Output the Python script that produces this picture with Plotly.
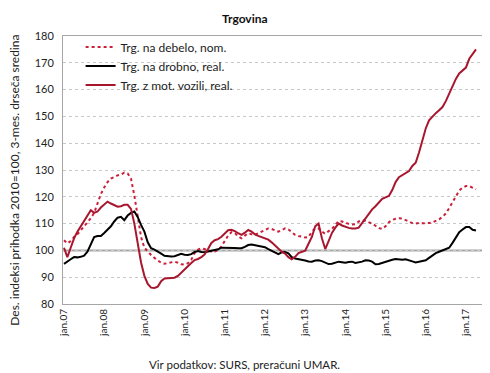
import plotly.graph_objects as go

# month index from jan 2007 (0) to apr 2017 (123)
tick_labels = ["jan.07", "jan.08", "jan.09", "jan.10", "jan.11", "jan.12",
               "jan.13", "jan.14", "jan.15", "jan.16", "jan.17"]
tick_positions = [0, 12, 24, 36, 48, 60, 72, 84, 96, 108, 120]

series_names = ["Trg. na debelo, nom.", "Trg. na drobno, real.", "Trg. z mot. vozili, real."]

wholesale_nom = [
    103.8, 102.6, 103.5, 105.0, 106.0, 107.5, 109.0, 110.5, 112.0, 114.0,
    117.5, 121.0, 123.5, 125.5, 126.8, 127.5, 128.0, 128.3, 129.0, 128.7,
    126.8, 120.5, 112.0, 105.0, 101.0, 99.5, 98.3, 97.2, 96.3, 95.4,
    95.0, 95.2, 95.6, 95.8, 95.4, 94.8, 94.7, 95.2, 96.5, 99.0,
    100.3, 100.8, 100.5, 100.0, 99.5, 99.6, 100.2, 101.5, 103.5, 105.5,
    106.8, 106.5, 105.2, 104.5, 105.5, 106.4, 106.0, 105.8, 106.4, 107.0,
    107.5, 108.2, 108.0, 107.6, 107.0, 107.6, 108.2, 107.8, 106.8, 105.8,
    105.4, 105.2, 104.8, 105.0, 107.0, 108.2, 108.2, 107.0, 106.2, 107.2,
    108.0, 109.5, 111.0, 110.8, 110.3, 109.9, 109.7, 109.8, 110.8, 111.3,
    111.0, 110.6, 110.0, 109.2, 108.3, 108.0, 109.0, 110.5, 111.4, 111.8,
    112.0, 111.9, 111.3, 110.7, 110.2, 110.0, 110.2, 110.1, 110.1, 110.2,
    110.4, 110.9, 111.6, 112.5, 113.8, 115.8, 117.9, 120.5, 122.3, 123.4,
    124.0, 124.0, 123.5, 122.8,
]

retail_real = [
    95.0, 96.0, 96.7, 97.5, 97.4, 97.6, 98.0, 99.5, 102.5, 105.0,
    105.4, 105.4, 106.5, 107.8, 109.0, 110.8, 112.2, 112.5, 111.3, 113.0,
    114.0, 114.5, 112.5, 109.5, 107.0, 103.0, 100.8, 100.3, 99.7, 98.8,
    98.0, 97.8, 97.7, 97.8, 98.2, 98.7, 98.4, 98.3, 98.6, 99.4,
    99.8, 99.4, 99.3, 99.6, 100.0, 100.2, 100.4, 101.0, 101.0, 100.9,
    101.1, 100.9, 100.8, 100.8, 101.3, 102.0, 102.2, 102.0, 101.6, 101.6,
    101.2, 100.5, 99.8, 99.2, 98.6, 99.3, 99.4, 98.9, 97.5, 97.0,
    96.8, 96.5, 96.2, 95.9, 95.8, 96.2, 96.3, 96.0, 95.3, 94.9,
    95.0, 95.3, 95.8, 95.6, 95.4, 95.7, 95.8, 95.3, 95.5, 95.8,
    96.3, 96.2, 95.8, 94.8, 94.9, 95.3, 95.9, 96.2, 96.5, 96.8,
    96.7, 96.5, 96.7, 96.4, 95.9, 95.5, 95.8, 96.0, 96.3, 97.2,
    98.2, 99.0, 99.5, 100.0, 100.2, 101.0, 102.8, 105.0, 106.8, 107.8,
    108.7, 108.7, 107.7, 107.4,
]

motor_real = [
    101.0, 97.5, 101.0, 104.5, 107.0, 109.0, 111.5, 113.5, 115.0, 114.0,
    114.5, 116.0, 117.0, 118.2, 117.5, 116.8, 116.3, 116.5, 117.0, 117.0,
    115.5, 110.0, 102.5, 95.5, 90.5, 87.5, 86.1, 86.0, 86.5, 88.5,
    89.5, 89.6, 89.5, 89.8, 90.5, 91.8, 92.8, 94.0, 95.3, 96.4,
    96.8, 97.5, 98.5, 100.5, 102.8, 103.8, 104.2, 105.1, 106.5, 107.5,
    107.7, 107.2, 106.4, 105.8, 106.6, 107.6, 107.0, 106.0, 105.4, 105.0,
    104.6, 104.0, 103.0, 101.8, 100.5, 99.5, 98.8, 97.5, 96.7, 97.6,
    99.0, 99.4, 99.9, 102.5, 105.0, 109.0, 110.0, 104.5, 100.5, 103.5,
    106.5, 108.5, 110.0, 109.3, 108.8, 108.4, 108.2, 108.2, 108.5, 110.3,
    111.8, 113.5, 115.3, 116.5, 118.0, 119.2, 119.8, 120.3, 122.5, 125.5,
    127.3, 128.0, 128.7, 129.6, 131.5, 132.7, 136.5, 141.5, 145.5, 148.5,
    150.0, 151.2, 152.3, 153.5, 155.7, 158.5, 161.0, 164.0, 166.0, 167.0,
    168.2, 171.5, 173.5, 175.0,
]

base_value = 100
months = list(range(len(motor_real)))

FONT = "Lato"
C_DOT = "#CC1F3A"
C_RED = "#A8162E"

fig = go.Figure()
fig.add_trace(go.Scatter(x=months, y=wholesale_nom, name=series_names[0], mode="lines",
                         line=dict(color=C_DOT, width=2, dash="dot")))
fig.add_trace(go.Scatter(x=months, y=retail_real, name=series_names[1], mode="lines",
                         line=dict(color="#000000", width=2)))
fig.add_trace(go.Scatter(x=months, y=motor_real, name=series_names[2], mode="lines",
                         line=dict(color=C_RED, width=2)))

fig.add_hline(y=base_value, line=dict(color="#A6A6A6", width=2), layer="below")

# the page body adds an 8px offset, so the figure is 8px smaller on each axis
fig.update_layout(
    width=482, height=365,
    margin=dict(l=55, r=8, t=28, b=69),
    paper_bgcolor="white", plot_bgcolor="white",
    font=dict(family=FONT, size=11, color="#222222"),
    showlegend=True,
    legend=dict(x=0.042, y=1.013, xanchor="left", yanchor="top",
                bgcolor="rgba(0,0,0,0)", font=dict(size=12, color="#222222"),
                tracegroupgap=0, itemwidth=30),
    xaxis=dict(range=[-0.3, 124.8], tickmode="array", tickvals=tick_positions,
               ticktext=tick_labels, tickangle=-90, showgrid=False,
               showline=True, linecolor="#A6A6A6", linewidth=1, mirror=True,
               ticks="", tickfont=dict(size=10, color="#222222"), zeroline=False),
    yaxis=dict(range=[80, 180], dtick=10, showgrid=True, gridcolor="#C8C8C8",
               griddash="dot", gridwidth=1, showline=True, linecolor="#A6A6A6",
               linewidth=1, mirror=True, ticks="", zeroline=False,
               tickfont=dict(size=11, color="#222222"), ticklabelstandoff=6),
)

fig.add_annotation(text="<b>Trgovina</b>", xref="paper", yref="paper",
                   x=0.434, y=1.067, xanchor="center", yanchor="middle",
                   showarrow=False, font=dict(size=12, color="#111111"))
fig.add_annotation(text="Des. indeksi prihodka 2010=100, 3-mes. drseča sredina",
                   xref="paper", yref="paper", x=-0.115, y=0.463,
                   xanchor="center", yanchor="middle", textangle=-90,
                   showarrow=False, font=dict(size=12, color="#222222"))
fig.add_annotation(text="Vir podatkov: SURS, preračuni UMAR.", xref="paper", yref="paper",
                   x=0.434, y=-0.224, xanchor="center", yanchor="middle",
                   showarrow=False, font=dict(size=11.5, color="#222222"))

fig.write_html("out.html")
